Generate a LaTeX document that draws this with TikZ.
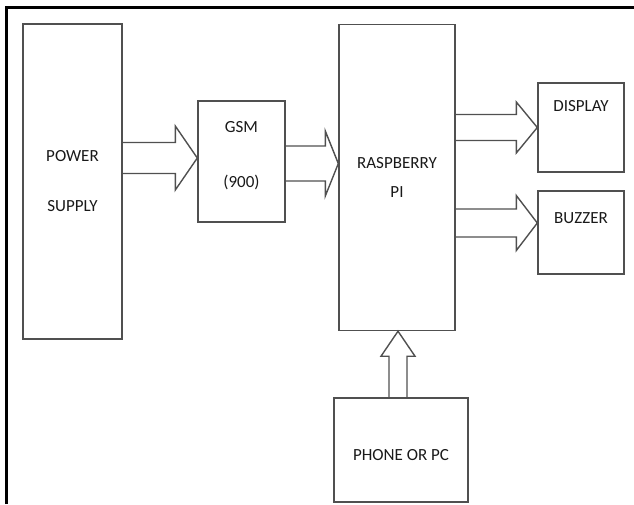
\documentclass[tikz,border=0pt]{standalone}
\usepackage{fontspec}
\setmainfont{Carlito}
\usetikzlibrary{calc}
\definecolor{linegray}{HTML}{505050}
\begin{document}
\begin{tikzpicture}[x=1pt, y=-1pt, every node/.style={font=\fontsize{17}{20}\selectfont, text=black!90},
  box/.style={draw=linegray,line width=1.4pt,inner sep=0pt,align=center},
  rarrow/.style args={#1/#2/#3}{draw=linegray,line width=1.4pt,
    to path={let \p1=(\tikztostart), \p2=(\tikztotarget) in
      (\x1,\y1+#1pt) -- (\x2-#3pt,\y1+#1pt) -- (\x2-#3pt,\y1+#2pt) -- (\x2,\y1)
      -- (\x2-#3pt,\y1-#2pt) -- (\x2-#3pt,\y1-#1pt) -- (\x1,\y1-#1pt)}},
  uarrow/.style args={#1/#2/#3}{draw=linegray,line width=1.4pt,
    to path={let \p1=(\tikztostart), \p2=(\tikztotarget) in
      (\x1-#1pt,\y1) -- (\x1-#1pt,\y2-#3pt) -- (\x1-#2pt,\y2-#3pt) -- (\x1,\y2)
      -- (\x1+#2pt,\y2-#3pt) -- (\x1+#1pt,\y2-#3pt) -- (\x1+#1pt,\y1)}}]
\useasboundingbox (0,0) rectangle (634,504);
\draw[line width=3pt] (6,504) -- (6,7) -- (634,7);
\node[box,minimum width=99pt,minimum height=315pt] (ps) at (72.5,181.5) {POWER\\[30pt]SUPPLY};
\node[box,minimum width=87pt,minimum height=121pt,
  label={[align=center,yshift=6pt]center:{GSM\\[35pt](900)}}] (gsm) at (241.5,161.5) {};
\node[box,minimum width=116pt,minimum height=306pt] (rpi) at (397,177.5) {RASPBERRY\\[9pt]PI};
\node[box,minimum width=86pt,minimum height=89pt,
  label={[yshift=21.5pt]center:DISPLAY}] (disp) at (581,127.5) {};
\node[box,minimum width=86pt,minimum height=83pt,
  label={[yshift=14.5pt]center:BUZZER}] (buzz) at (581,232.5) {};
\node[box,minimum width=134pt,minimum height=104pt,
  label={[yshift=-5pt]center:PHONE OR PC}] (phone) at (401,450) {};
% block arrows
\draw[rarrow=15.5/32/22] ($(ps.east |- gsm.west)+(0,-3.5)$) to (gsm.west);
\draw[rarrow=17.5/32.5/13] ($(gsm.east)+(0,2)$) to (rpi.west);
\draw[rarrow=13/25.5/21] (rpi.east |- disp.west) to (disp.west);
\draw[rarrow=14/27.5/21] ($(rpi.east |- buzz.west)+(0,-9.5)$) to (buzz.west);
\draw[uarrow=9/17/25] ($(phone.north)+(-3,0)$) to (rpi.south);
\end{tikzpicture}
\end{document}
